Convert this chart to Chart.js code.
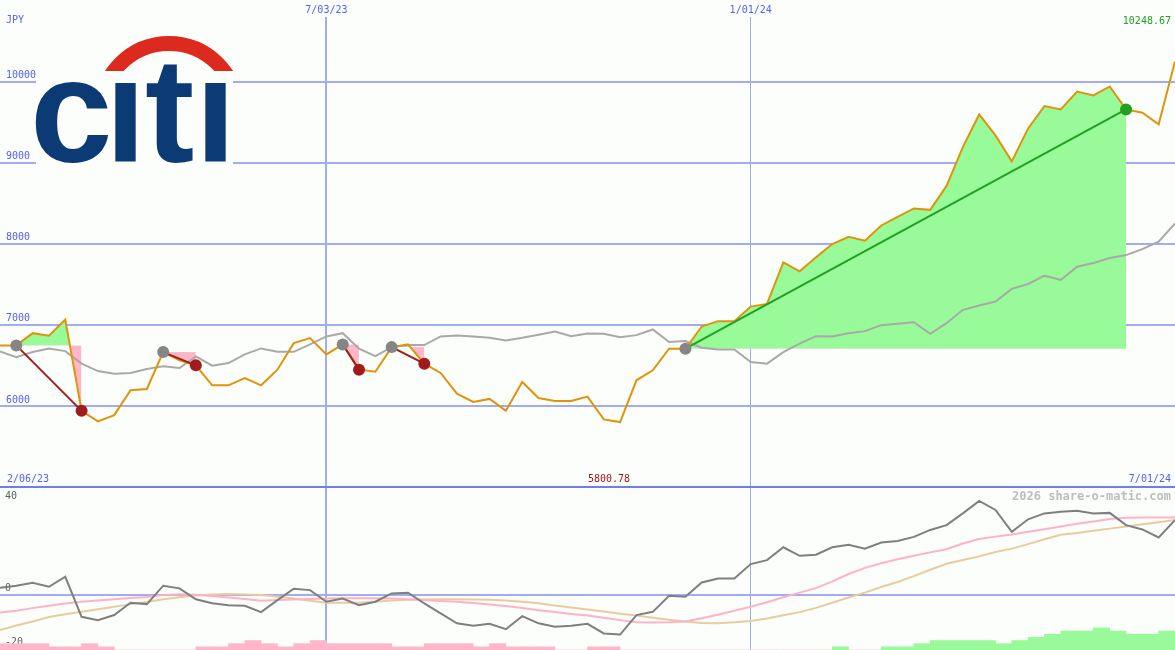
<!DOCTYPE html>
<html>
<head>
<meta charset="utf-8">
<script src="https://cdn.jsdelivr.net/npm/chart.js@4.4.1/dist/chart.umd.min.js"></script>
<style>
  html, body { margin: 0; padding: 0; background: #fbfefb; }
  #wrap { position: relative; width: 1175px; height: 650px; overflow: hidden; font: 10px 'DejaVu Sans Mono', monospace; }
  #top { position: absolute; left: 0; top: 0; }
  #bot { position: absolute; left: 0; top: 486px; }
  .lbl { position: absolute; white-space: nowrap; line-height: 12px; }
</style>
</head>
<body>
<div id="wrap">
  <canvas id="top" width="1175" height="487"></canvas>
  <canvas id="bot" width="1175" height="164"></canvas>
  <div class="lbl" id="lbl-ccy" style="left:6px;top:14px;color:#5860f0"></div>
  <div class="lbl" id="lbl-last" style="right:4px;top:15px;color:#22a022"></div>
  <div class="lbl" id="lbl-start" style="left:7px;top:473px;color:#5860f0"></div>
  <div class="lbl" id="lbl-min" style="left:588px;top:473px;color:#a01818"></div>
  <div class="lbl" id="lbl-end" style="right:4px;top:473px;color:#5860f0"></div>
  <div class="lbl" id="lbl-credit" style="right:4px;top:490px;color:#bdbdbd;font-weight:bold;font-size:12px"></div>
</div>
<script>
// Weekly closes, index 0 = first week shown
const price = [
  6746, 6746, 6897, 6865, 7066, 5939, 5810, 5886, 6193, 6209,
  6664, 6562, 6500, 6254, 6254, 6344, 6254, 6447, 6774, 6836,
  6635, 6758, 6447, 6422, 6725, 6758, 6521, 6406, 6152, 6049,
  6086, 5939, 6295, 6098, 6061, 6061, 6115, 5833, 5800.78, 6316,
  6439, 6705, 6705, 6979, 7045, 7045, 7225, 7258, 7770, 7660,
  7832, 7996, 8086, 8037, 8225, 8332, 8435, 8418, 8713, 9192,
  9594, 9336, 9016, 9422, 9697, 9656, 9877, 9828, 9939, 9656,
  9615, 9472, 10248.67
];
const movingAvg = [
  6672, 6602, 6664, 6709, 6676, 6521, 6430, 6398, 6406, 6455,
  6488, 6467, 6611, 6496, 6528, 6635, 6709, 6669, 6667, 6758,
  6857, 6897, 6705, 6615, 6725, 6750, 6750, 6857, 6869, 6857,
  6840, 6808, 6840, 6877, 6918, 6860, 6893, 6889, 6848, 6873,
  6943, 6787, 6799, 6718, 6697, 6697, 6541, 6521, 6664, 6767,
  6860, 6857, 6897, 6922, 6996, 7013, 7032, 6890, 7020, 7185,
  7238, 7287, 7443, 7504, 7606, 7553, 7717, 7762, 7824, 7860,
  7934, 8024, 8249
];
// trades: entry / exit week index
const tradeEntry = [1, 10, 21, 24, 42];
const tradeExit  = [5, 12, 22, 26, 69];

// lower panel
const oscillator = [
  2.6, 3.4, 4.5, 3.0, 6.75, -8.25, -9.5, -7.6, -3.0, -3.5,
  3.4, 2.4, -1.7, -3.2, -3.9, -4.1, -6.5, -2.0, 2.25, 1.75,
  -2.6, -1.4, -3.9, -2.6, 0.5, 0.75, -3.2, -7.0, -10.7, -11.6,
  -10.9, -12.9, -8.0, -10.7, -12.0, -11.6, -10.9, -14.5, -14.9, -7.6,
  -6.4, -0.4, -0.75, 4.6, 6.1, 6.1, 11.5, 13.0, 17.8, 14.6,
  15.0, 17.8, 18.75, 17.25, 19.6, 20.2, 21.7, 24.3, 26.1, 30.5,
  35.2, 31.8, 23.6, 28.3, 30.5, 31.1, 31.5, 30.5, 30.7, 26.1,
  24.5, 21.5, 28.0
];
const signalFast = [
  -6.6, -6.0, -5.0, -4.1, -3.3, -2.6, -2.1, -1.7, -1.2, -0.8,
  -0.1, 0.2, 0.0, -0.5, -1.0, -1.6, -2.2, -2.0, -1.8, -1.6,
  -1.4, -1.3, -1.3, -1.3, -1.4, -1.7, -2.0, -2.3, -2.6, -3.1,
  -3.6, -4.2, -5.0, -5.8, -6.5, -7.2, -7.8, -8.6, -9.5, -10.3,
  -10.4, -10.3, -10.0, -8.8, -7.5, -6.0, -4.5, -2.8, -0.9, 0.8,
  2.5, 5.0, 7.8, 10.1, 11.8, 13.3, 14.6, 15.9, 17.1, 19.2,
  20.9, 21.8, 22.6, 23.6, 24.6, 25.6, 26.6, 27.5, 28.4, 28.9,
  29.0, 29.0, 29.0
];
const signalSlow = [
  -13.2, -11.5, -10.0, -8.3, -7.3, -6.4, -5.4, -4.5, -3.5, -2.7,
  -1.7, -0.9, -0.3, 0.1, 0.3, 0.1, -0.1, -0.7, -1.4, -2.2,
  -3.0, -3.0, -3.0, -2.6, -2.1, -1.9, -1.8, -1.7, -1.7, -1.8,
  -1.9, -2.1, -2.6, -3.2, -4.0, -4.8, -5.5, -6.3, -7.1, -7.8,
  -8.6, -9.4, -10.0, -10.6, -10.7, -10.3, -9.8, -8.9, -7.7, -6.5,
  -4.9, -3.0, -1.0, 0.8, 2.9, 4.8, 7.0, 9.4, 11.6, 13.0,
  14.4, 16.0, 17.3, 19.0, 20.8, 22.5, 23.2, 24.0, 24.8, 25.6,
  26.4, 27.2, 28.0
];
// histogram, one value per week interval (sign = colour)
const histogram = [
  -2, -2, -2, -1, -1, -2, -1, 0, 0, 0,
  0, 0, -1, -1, -2, -3, -2, -1, -2, -3,
  -2, -2, -2, -2, -1, -1, -2, -2, -2, -1,
  -2, -1, -1, -1, 0, 0, -1, -1, 0, 0,
  0, 0, 0, 0, 0, 0, 0, 0, 0, 0,
  0, 1, 0, 0, 1, 1, 2, 3, 3, 3,
  3, 2, 3, 4, 5, 6, 6, 7, 6, 5,
  5, 6
];

const dateTickIdx    = [20, 46];
const dateTickLabels = ['7/03/23', '1/01/24'];
const priceTicks     = [6000, 7000, 8000, 9000, 10000];
const oscTicksLow    = [-20, 0];
const oscTicksHigh   = [40];
const periodLabels   = ['2/06/23', '7/01/24'];
const currency       = 'JPY';
const credit         = '2026 share-o-matic.com';

const BG        = '#fbfefb';
const GRID      = '#a3abf3';
const SEP       = '#6f7fea';
const TEXT_BLUE = '#5860f0';
const ORANGE    = '#e0940c';
const MA_GRAY   = '#a9a9a9';
const FILL_UP   = '#98fa98';
const FILL_DOWN = '#ffb6c8';
const LOSS      = '#a01c1c';
const WIN       = '#22a022';
const ENTRY_DOT = '#858585';
const OSC_GRAY  = '#7f7f7f';
const PINK_LINE = '#ffb2c6';
const TAN_LINE  = '#e8cc9e';
const MONO = { family: "'DejaVu Sans Mono', monospace", size: 10 };

const pts = arr => arr.map((v, i) => ({ x: i, y: v }));
const lastIdx = price.length - 1;

// citi logo on a plain box over the grid (letters placed one by one, i's without dots)
const logoPlugin = {
  id: 'logo',
  beforeDatasetsDraw(chart) {
    const ctx = chart.ctx;
    ctx.save();
    ctx.fillStyle = BG;
    ctx.fillRect(36, 30, 197, 135);
    ctx.font = "bold 150px 'Liberation Sans'";
    const xh = ctx.measureText('x').actualBoundingBoxAscent;
    const size = 150 * 79 / xh;
    ctx.font = `bold ${size}px 'Liberation Sans'`;
    ctx.fillStyle = '#0c3a75';
    const glyphs = ['c', 'i', 't', 'i'];
    const lefts = [35, 115, 146, 205];
    glyphs.forEach((g, k) => {
      const m = ctx.measureText(g);
      ctx.save();
      if (g === 'i') {
        ctx.beginPath();
        ctx.rect(0, 83, 300, 100);
        ctx.clip();
      }
      ctx.fillText(g, lefts[k] + m.actualBoundingBoxLeft, 162);
      ctx.restore();
    });
    ctx.restore();

    ctx.save();
    ctx.beginPath();
    ctx.rect(36, 30, 197, 41);
    ctx.clip();
    ctx.beginPath();
    ctx.arc(169, 112, 68.5, Math.PI, 2 * Math.PI);
    ctx.lineWidth = 15;
    ctx.strokeStyle = '#dd2a1e';
    ctx.stroke();
    ctx.restore();
  }
};

const topSets = [];
tradeEntry.forEach((e, k) => {
  const x = tradeExit[k];
  topSets.push({
    data: pts(price).slice(e, x + 1),
    borderColor: 'rgba(0,0,0,0)',
    borderWidth: 0,
    fill: { target: { value: price[e] }, above: FILL_UP, below: FILL_DOWN },
    order: 10
  });
});
topSets.push({ data: pts(movingAvg), borderColor: MA_GRAY, borderWidth: 2, order: 4 });
topSets.push({ data: pts(price), borderColor: ORANGE, borderWidth: 2, order: 3 });
tradeEntry.forEach((e, k) => {
  const x = tradeExit[k];
  const win = price[x] > price[e];
  topSets.push({
    data: [{ x: e, y: price[e] }, { x: x, y: price[x] }],
    borderColor: win ? WIN : LOSS,
    borderWidth: 2,
    pointRadius: 6,
    pointBorderWidth: 0,
    pointBackgroundColor: [ENTRY_DOT, win ? WIN : LOSS],
    order: 1
  });
});

const dateAxisTicks = s => { s.ticks = dateTickIdx.map(v => ({ value: v })); };
// mirrored value axes take no room and add no label padding
const flatAxis = s => { s.width = 0; s.paddingTop = 0; s.paddingBottom = 0; };

new Chart(document.getElementById('top'), {
  type: 'line',
  data: { datasets: topSets },
  options: {
    responsive: false,
    animation: false,
    layout: { padding: { top: 3 }, autoPadding: false },
    plugins: { legend: { display: false }, tooltip: { enabled: false } },
    elements: { line: { tension: 0 }, point: { radius: 0 } },
    scales: {
      x: {
        type: 'linear', position: 'top', min: 0, max: lastIdx,
        afterBuildTicks: dateAxisTicks,
        ticks: { callback: v => dateTickLabels[dateTickIdx.indexOf(v)], color: TEXT_BLUE, font: MONO, padding: 1, maxRotation: 0, autoSkip: false },
        grid: { color: GRID, lineWidth: c => (c.index === 0 ? 2 : 1), drawTicks: false },
        border: { display: false }
      },
      y: {
        min: 5000, max: 10796,
        afterBuildTicks: s => { s.ticks = priceTicks.map(v => ({ value: v })); },
        afterFit: flatAxis,
        ticks: { mirror: true, padding: 6, labelOffset: -6, color: TEXT_BLUE, font: MONO, callback: v => String(v) },
        grid: { color: GRID, lineWidth: 2, drawTicks: false },
        border: { display: false }
      }
    }
  },
  plugins: [logoPlugin]
});

new Chart(document.getElementById('bot'), {
  type: 'line',
  data: {
    datasets: [
      { data: pts(oscillator), borderColor: OSC_GRAY, borderWidth: 2, order: 1 },
      { data: pts(signalFast), borderColor: PINK_LINE, borderWidth: 2, order: 2 },
      { data: pts(signalSlow), borderColor: TAN_LINE, borderWidth: 2, order: 3 },
      {
        type: 'bar',
        data: histogram.map((v, i) => ({ x: i + 0.5, y: Math.abs(v) })),
        backgroundColor: histogram.map(v => (v > 0 ? FILL_UP : FILL_DOWN)),
        yAxisID: 'yh', barPercentage: 1, categoryPercentage: 1, order: 5
      }
    ]
  },
  options: {
    responsive: false,
    animation: false,
    layout: { padding: { top: 1 }, autoPadding: false },
    plugins: { legend: { display: false }, tooltip: { enabled: false } },
    elements: { line: { tension: 0 }, point: { radius: 0 } },
    scales: {
      x: {
        type: 'linear', position: 'top', min: 0, max: lastIdx, offset: false,
        afterBuildTicks: dateAxisTicks,
        ticks: { display: false },
        grid: { offset: false, color: GRID, lineWidth: c => (c.index === 0 ? 2 : 1), drawTicks: false },
        border: { display: true, color: SEP, width: 2 }
      },
      y: {
        min: -20.7, max: 40.4,
        afterBuildTicks: s => { s.ticks = oscTicksLow.map(v => ({ value: v })); },
        afterFit: flatAxis,
        ticks: { mirror: true, padding: 5, labelOffset: -6, color: '#606060', font: MONO },
        grid: { color: c => (c.tick && c.tick.value === 0 ? GRID : 'rgba(0,0,0,0)'), lineWidth: 2, drawTicks: false },
        border: { display: false }
      },
      y2: {
        position: 'left', min: -20.7, max: 40.4,
        afterBuildTicks: s => { s.ticks = oscTicksHigh.map(v => ({ value: v })); },
        afterFit: flatAxis,
        ticks: { mirror: true, padding: 5, labelOffset: 8, color: '#606060', font: MONO },
        grid: { display: false },
        border: { display: false }
      },
      yh: { display: false, min: 0, max: 51.7 }
    }
  }
});

document.getElementById('lbl-ccy').textContent = currency;
document.getElementById('lbl-last').textContent = price[lastIdx].toFixed(2);
document.getElementById('lbl-min').textContent = Math.min(...price).toFixed(2);
document.getElementById('lbl-start').textContent = periodLabels[0];
document.getElementById('lbl-end').textContent = periodLabels[1];
document.getElementById('lbl-credit').textContent = credit;
</script>
</body>
</html>
